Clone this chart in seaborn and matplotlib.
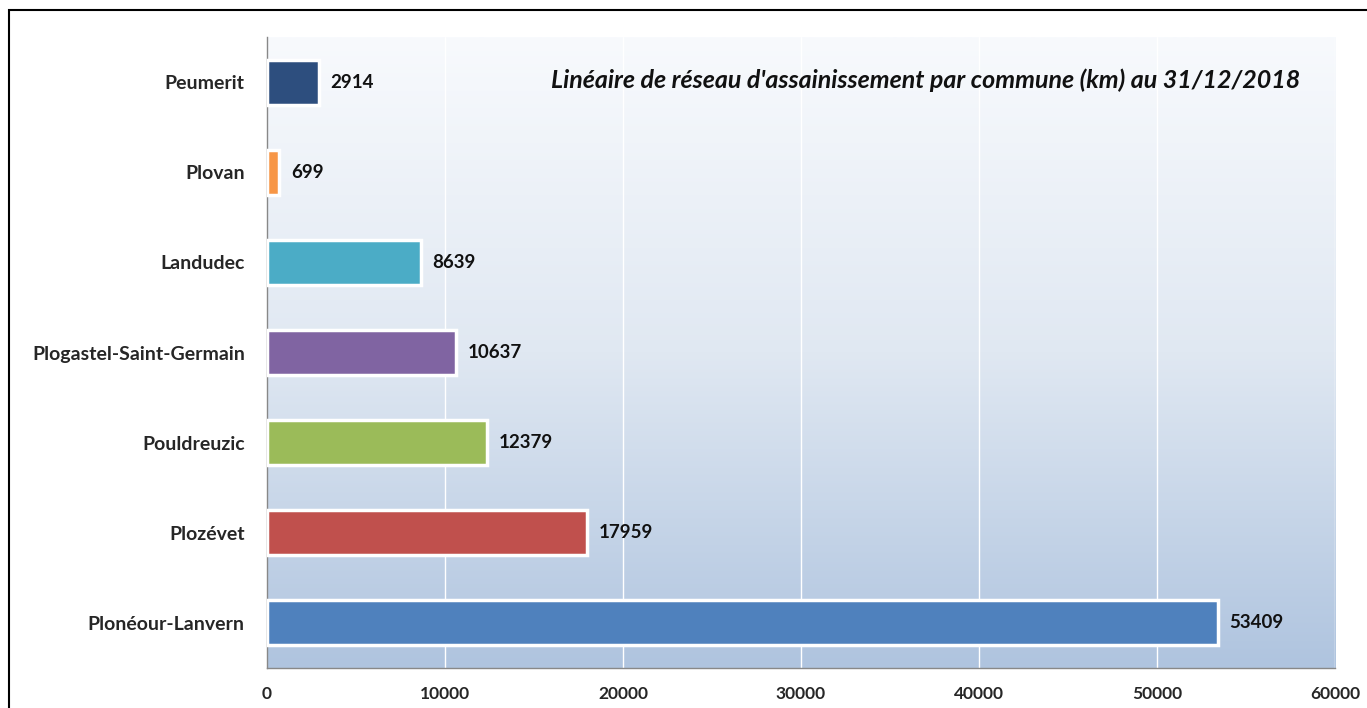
import numpy as np
import pandas as pd
import matplotlib.pyplot as plt
import seaborn as sns
from matplotlib.colors import LinearSegmentedColormap
from matplotlib.patches import Rectangle

communes = ['Peumerit', 'Plovan', 'Landudec', 'Plogastel-Saint-Germain',
            'Pouldreuzic', 'Plozévet', 'Plonéour-Lanvern']
lineaire_km = [2914, 699, 8639, 10637, 12379, 17959, 53409]
couleurs = ['#2d4e7e', '#f79646', '#4bacc6', '#8064a2',
            '#9bbb59', '#c0504d', '#4f81bd']
x_ticks = [0, 10000, 20000, 30000, 40000, 50000, 60000]
titre = "Linéaire de réseau d'assainissement par commune (km) au 31/12/2018"

df = pd.DataFrame({'commune': communes, 'km': lineaire_km})

sns.set_style('white')
plt.rcParams['font.family'] = ['Lato', 'DejaVu Sans']

fig = plt.figure(figsize=(13.67, 7.08), dpi=100)
ax = fig.add_axes([0.1953, 0.0565, 0.7813, 0.8912])

# gradient background (white at top -> light blue at bottom)
cmap = LinearSegmentedColormap.from_list('bg', ['#f8fafd', '#e0e8f2', '#afc4df'])
grad = np.linspace(0, 1, 256).reshape(-1, 1)
ax.imshow(grad, aspect='auto', cmap=cmap, extent=[0, 60000, 6.5, -0.5],
          zorder=0, origin='upper')

sns.barplot(data=df, x='km', y='commune', hue='commune', palette=couleurs,
            order=communes, hue_order=communes, legend=False, width=0.5,
            saturation=1, edgecolor='white', linewidth=2.5, ax=ax, zorder=3)

ax.set_xlim(0, 60000)
ax.set_ylim(6.5, -0.5)
ax.set_xticks(x_ticks)
ax.set_xticklabels([str(t) for t in x_ticks], fontsize=12.5, fontweight='bold')
ax.set_yticks(range(len(communes)))
ax.set_yticklabels(communes, fontsize=14, fontweight='bold')
ax.set_yticks(np.arange(-0.5, len(communes), 1), minor=True)
ax.tick_params(axis='y', which='major', length=0, pad=16)
ax.tick_params(axis='y', which='minor', length=6, color='#888888', width=1)
ax.tick_params(axis='x', which='major', length=6, color='#888888', width=1,
               direction='out', pad=7)
ax.set_xlabel('')
ax.set_ylabel('')

for x in x_ticks[1:]:
    ax.axvline(x, color='white', linewidth=1, zorder=1)

for s in ['top', 'right']:
    ax.spines[s].set_visible(False)
for s in ['left', 'bottom']:
    ax.spines[s].set_color('#888888')
    ax.spines[s].set_linewidth(1)

for i, v in enumerate(lineaire_km):
    ax.text(v + 650, i, str(v), va='center', ha='left', fontsize=13.5,
            fontweight='bold', color='#111111', zorder=4)

ax.text(0.967, 0.932, titre, transform=ax.transAxes, ha='right', va='center',
        fontsize=18, fontstyle='italic', fontweight='bold', color='#111111')

# outer frame of the original picture
fig.patches.append(Rectangle((9 / 1367, -0.01), 1.1, 1 - 10 / 708 + 0.01,
                             transform=fig.transFigure, fill=False,
                             edgecolor='black', linewidth=1.5))

fig.savefig('out.png', dpi=100)
